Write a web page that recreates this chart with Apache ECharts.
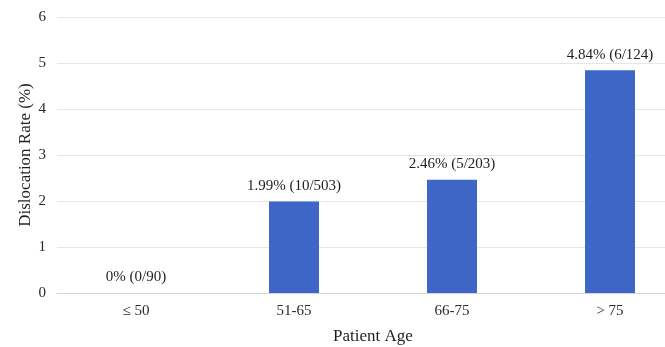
<!DOCTYPE html>
<html>
<head>
<meta charset="utf-8">
<script src="https://cdn.jsdelivr.net/npm/echarts@6/dist/echarts.min.js"></script>
<style>
  html, body { margin: 0; padding: 0; background: #ffffff; }
  #chart { width: 665px; height: 347px; }
</style>
</head>
<body>
<div id="chart"></div>
<script>
// Age groups and dislocation rates
const categories = ['\u2264 50', '51-65', '66-75', '> 75'];
const rates = [0, 1.99, 2.46, 4.84];
const counts = ['0/90', '10/503', '5/203', '6/124'];
const yTicks = [0, 1, 2, 3, 4, 5, 6];

const font = '"Liberation Serif", "DejaVu Serif", serif';

const chart = echarts.init(document.getElementById('chart'));
chart.setOption({
  animation: false,
  backgroundColor: '#ffffff',
  grid: { left: 57, top: 17, bottom: 54, width: 632, containLabel: false, outerBoundsMode: 'none' },
  xAxis: {
    type: 'category',
    data: categories,
    name: 'Patient Age',
    nameLocation: 'middle',
    nameGap: 35,
    nameMoveOverlap: false,
    nameTextStyle: { fontFamily: font, fontSize: 17, color: '#1e1e1e' },
    axisLine: { show: true, lineStyle: { color: '#d4d4d4', width: 1 } },
    axisTick: { show: false },
    axisLabel: { fontFamily: font, fontSize: 15, color: '#2a2a2a', margin: 11 }
  },
  yAxis: {
    type: 'value',
    min: yTicks[0],
    max: yTicks[yTicks.length - 1],
    interval: 1,
    name: 'Dislocation Rate (%)',
    nameLocation: 'middle',
    nameGap: 23,
    nameMoveOverlap: false,
    nameTextStyle: { fontFamily: font, fontSize: 17, color: '#1e1e1e' },
    axisLine: { show: false },
    axisTick: { show: false },
    axisLabel: { fontFamily: font, fontSize: 15, color: '#2a2a2a', margin: 11 },
    splitLine: { lineStyle: { color: '#e6e6e6', width: 1 } }
  },
  series: [{
    type: 'bar',
    data: rates,
    barWidth: 50,
    itemStyle: { color: '#3e66c7' },
    label: {
      show: true,
      position: 'top',
      distance: 8,
      fontFamily: font,
      fontSize: 15,
      color: '#1e1e1e',
      formatter: p => p.value + '% (' + counts[p.dataIndex] + ')'
    }
  }]
});
</script>
</body>
</html>
